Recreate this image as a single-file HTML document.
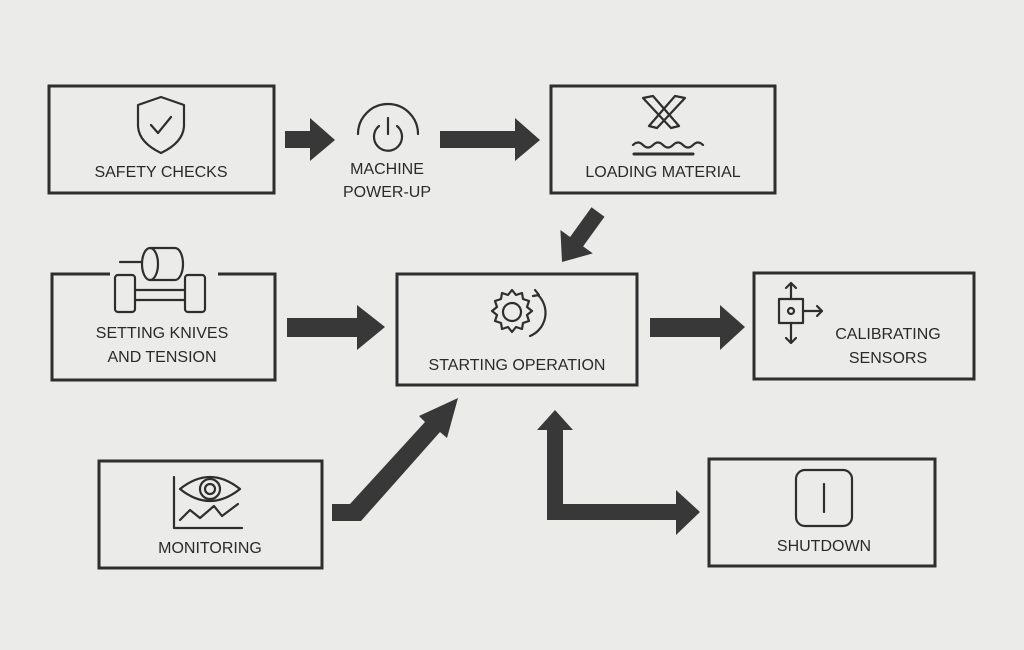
<!DOCTYPE html>
<html><head><style>
html,body{margin:0;padding:0;background:#ebebea;}
svg{display:block}
text{font-family:"Liberation Sans",sans-serif;font-size:16px;fill:#2a2a2a;text-anchor:middle}
</style></head><body>
<svg width="1024" height="650" viewBox="0 0 1024 650" xmlns="http://www.w3.org/2000/svg">
<rect width="1024" height="650" fill="#ebebea"/>
<g fill="none" stroke="#2e2e2e" stroke-width="3">
<rect x="49" y="86" width="225" height="107"/>
<rect x="551" y="86" width="224" height="107"/>
<path d="M110 274 H52 V380 H275 V274 H218"/>
<rect x="397" y="274" width="240" height="111"/>
<rect x="754" y="273" width="220" height="106"/>
<rect x="99" y="461" width="223" height="107"/>
<rect x="709" y="459" width="226" height="107"/>
</g>
<!-- arrows -->
<g fill="#383838">
<polygon points="285,131 310,131 310,118 335,140 310,161 310,148 285,148"/>
<polygon points="440,131 515,131 515,118 540,140 515,161 515,148 440,148"/>
<polygon points="591.5,207.3 604.5,216.7 583.1,246.4 592.8,253.4 562,262 560.4,230 570.1,237"/>
<polygon points="287,318 357,318 357,305 385,327 357,350 357,337 287,337"/>
<polygon points="650,318 720,318 720,305 745,327 720,350 720,337 650,337"/>
<polygon points="332,504 350,504 425,422 419,416 458,398 447,438 440,432 361,521 332,521"/>
<polygon points="547,520 547,430 537,430 555,410 573,430 563,430 563,504 676,504 676,490 700,512 676,535 676,520"/>
</g>
<!-- labels -->
<text x="161" y="177">SAFETY CHECKS</text>
<text x="387" y="174">MACHINE</text>
<text x="387" y="197">POWER-UP</text>
<text x="663" y="177">LOADING MATERIAL</text>
<text x="162" y="338">SETTING KNIVES</text>
<text x="162" y="362">AND TENSION</text>
<text x="517" y="370">STARTING OPERATION</text>
<text x="888" y="339">CALIBRATING</text>
<text x="888" y="363">SENSORS</text>
<text x="210" y="553">MONITORING</text>
<text x="824" y="551">SHUTDOWN</text>
<!-- icons -->
<g fill="none" stroke="#2e2e2e" stroke-width="2.2" stroke-linecap="round" stroke-linejoin="round">
<path d="M161 97 L184 105 V125 Q184 142 161 153 Q138 142 138 125 V105 Z"/>
<path d="M151 125 L158 133 L171 117"/>
<path d="M358 134 A30 30 0 0 1 418 134"/>
<path d="M379 126 A14 14 0 1 0 397 126"/>
<path d="M388 118 V134"/>
<path d="M643 98 L671 128 M653 96 L679 126 M643 98 L653 96 M671 128 L679 126"/>
<path d="M685 98 L657 128 M675 96 L649 126 M685 98 L675 96 M657 128 L649 126"/>
<path d="M633 145 q5 -5 10 0 t10 0 t10 0 t10 0 t10 0 t10 0 t10 0"/>
<path d="M634 154 H693" stroke-width="3"/>
<path d="M150 248 H175 A8 16 0 0 1 175 280 H150"/>
<ellipse cx="150" cy="264" rx="8" ry="16"/>
<path d="M120 262 H142"/>
<rect x="115" y="275" width="20" height="37" rx="3"/>
<rect x="185" y="275" width="20" height="37" rx="3"/>
<path d="M135 290 H185 M135 300 H185"/>
<circle cx="512" cy="312" r="9"/>
<path d="M512 290 l4 5 6 -2 1 6 6 2 -2 6 5 4 -5 4 2 6 -6 2 -1 6 -6 -2 -4 5 -4 -5 -6 2 -1 -6 -6 -2 2 -6 -5 -4 5 -4 -2 -6 6 -2 1 -6 6 2 z"/>
<path d="M538 295 A25 25 0 0 1 530 336"/>
<path d="M535 290 l4 5 -6 1"/>
<rect x="779" y="299" width="24" height="24"/>
<circle cx="791" cy="311" r="3"/>
<path d="M791 299 V283 M786 288 L791 283 L796 288 M791 323 V343 M786 338 L791 343 L796 338 M803 311 H822 M817 306 L822 311 L817 316"/>
<path d="M174 477 V528 H242"/>
<path d="M180 489 Q210 465 240 489 Q210 513 180 489 Z"/>
<circle cx="210" cy="489" r="10"/><circle cx="210" cy="489" r="5"/>
<path d="M180 520 L190 510 L200 518 L214 506 L222 516 L238 504"/>
<rect x="796" y="470" width="56" height="56" rx="9"/>
<path d="M824 484 V512"/>
</g>
</svg>
</body></html>
